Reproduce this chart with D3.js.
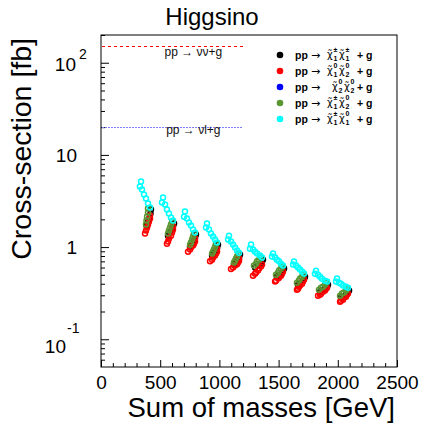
<!DOCTYPE html>
<html lang="en">
<head>
<meta charset="UTF-8" />
<title>Higgsino cross-sections</title>
<script src="https://d3js.org/d3.v7.min.js"></script>
<style>
  body { margin: 0; background: #fff; }
  svg { display: block; font-family: "Liberation Sans", Arial, Helvetica, sans-serif; }
</style>
</head>
<body>
<svg width="423" height="426"></svg>
<script>
  // sum of masses [GeV], cross-section [fb]; one inner list per mass point
  // pp -> chi1+- chi1+- + g
  const xsecC1C1 = [
    [[422,2.56],[418,2.32],[410,2.10],[399,1.90],[384,1.72]],
    [[617,1.80],[608,1.67],[600,1.55],[583,1.44],[566,1.33]],
    [[802,1.37],[794,1.27],[785,1.18],[769,1.09],[752,1.01]],
    [[988,1.06],[980,0.99],[971,0.92],[954,0.87],[938,0.81]],
    [[1174,0.83],[1166,0.77],[1157,0.73],[1140,0.70],[1123,0.65]],
    [[1368,0.73],[1360,0.70],[1351,0.66],[1326,0.63],[1301,0.60]],
    [[1546,0.584],[1537,0.556],[1529,0.528],[1503,0.502],[1486,0.478]],
    [[1723,0.478],[1715,0.455],[1706,0.433],[1681,0.411],[1664,0.391]],
    [[1917,0.391],[1909,0.372],[1892,0.354],[1867,0.337],[1850,0.328]],
    [[2095,0.337],[2086,0.321],[2069,0.305],[2044,0.290],[2027,0.283]]
  ];
  // pp -> chi1^0 chi2^0 + g
  const xsecN1N2 = [
    [[414,2.20],[414,2.04],[405,1.89],[397,1.76],[389,1.63],[380,1.51],[372,1.40]],
    [[608,1.67],[608,1.55],[600,1.44],[591,1.33],[574,1.24],[566,1.15],[557,1.09]],
    [[794,1.24],[794,1.15],[785,1.09],[777,1.04],[760,0.99],[752,0.94],[735,0.89]],
    [[980,0.96],[980,0.89],[971,0.85],[963,0.81],[946,0.77],[938,0.73],[921,0.70]],
    [[1166,0.75],[1166,0.71],[1157,0.68],[1149,0.65],[1132,0.63],[1115,0.60],[1098,0.58]],
    [[1360,0.646],[1351,0.614],[1334,0.584],[1326,0.556],[1309,0.529],[1301,0.515],[1284,0.490]],
    [[1537,0.542],[1529,0.515],[1520,0.490],[1503,0.466],[1495,0.455],[1478,0.432],[1470,0.422]],
    [[1715,0.444],[1706,0.422],[1698,0.401],[1681,0.382],[1672,0.372],[1664,0.354],[1655,0.345]],
    [[1909,0.363],[1900,0.354],[1892,0.337],[1875,0.328],[1858,0.312],[1850,0.304],[1833,0.297]],
    [[2086,0.313],[2078,0.305],[2069,0.290],[2052,0.283],[2044,0.269],[2027,0.262],[2019,0.256]]
  ];
  // pp -> chi2^0 chi2^0 + g (below the visible range)
  const xsecN2N2 = [
    [[345,0.031]],[[531,0.017]],[[716,0.011]],[[902,0.0074]],[[1088,0.0052]],
    [[1274,0.0038]],[[1460,0.0028]],[[1637,0.0021]],[[1823,0.0016]],[[2000,0.0012]]
  ];
  // pp -> chi1+- chi2^0 + g
  const xsecC1N2 = [
    [[397,2.62],[397,2.38],[389,2.15],[384,1.94],[380,1.76]],
    [[600,1.89],[591,1.76],[583,1.63],[574,1.51],[566,1.40]],
    [[785,1.40],[777,1.30],[769,1.21],[760,1.12],[752,1.06]],
    [[971,1.09],[963,1.01],[954,0.94],[946,0.89],[938,0.85]],
    [[1157,0.85],[1149,0.79],[1140,0.75],[1132,0.71],[1123,0.68]],
    [[1343,0.77],[1335,0.73],[1318,0.70],[1309,0.66],[1292,0.63]],
    [[1529,0.614],[1520,0.584],[1503,0.556],[1495,0.528],[1478,0.502]],
    [[1706,0.503],[1698,0.478],[1681,0.455],[1672,0.433],[1655,0.411]],
    [[1900,0.411],[1892,0.391],[1875,0.372],[1858,0.363],[1841,0.345]],
    [[2078,0.354],[2069,0.337],[2052,0.321],[2035,0.313],[2019,0.297]]
  ];
  // pp -> chi1+- chi1^0 + g
  const xsecC1N1 = [
    [[338,5.15],[329,4.55],[346,4.22],[363,3.72],[380,3.37],[397,2.97],[414,2.69]],
    [[524,3.45],[515,3.04],[541,2.90],[557,2.56],[574,2.31],[591,2.09],[608,1.94]],
    [[709,2.43],[701,2.14],[726,2.04],[743,1.85],[760,1.71],[777,1.55],[794,1.44]],
    [[895,1.80],[887,1.63],[912,1.55],[929,1.40],[946,1.30],[963,1.21],[980,1.12]],
    [[1081,1.33],[1073,1.21],[1098,1.15],[1115,1.07],[1132,0.99],[1149,0.92],[1166,0.87]],
    [[1267,1.07],[1258,0.96],[1284,0.94],[1301,0.89],[1318,0.85],[1343,0.81],[1360,0.77]],
    [[1453,0.850],[1444,0.79],[1470,0.77],[1486,0.73],[1503,0.70],[1520,0.66],[1537,0.63]],
    [[1630,0.696],[1622,0.646],[1647,0.630],[1664,0.599],[1681,0.570],[1698,0.542],[1715,0.516]],
    [[1816,0.555],[1807,0.515],[1833,0.502],[1850,0.478],[1867,0.454],[1892,0.432],[1909,0.422]],
    [[1993,0.455],[1985,0.422],[2010,0.411],[2027,0.401],[2044,0.382],[2069,0.372],[2086,0.363]]
  ];

  const seriesColors = ["#000000", "#ff0000", "#0000ff", "#5a9632", "#00ffff"];
  // legend: final-state particle pairs (sup, sub)
  const seriesParticles = [
    [["±","1"],["±","1"]],
    [["0","1"],["0","2"]],
    [["0","2"],["0","2"]],
    [["±","1"],["0","2"]],
    [["±","1"],["0","1"]]
  ];
  const seriesData = [xsecC1C1, xsecN1N2, xsecN2N2, xsecC1N2, xsecC1N1];

  // reference processes (horizontal lines)
  const refLabels = ["pp \u2192 \u03bd\u03bd+g", "pp \u2192 \u03bdl+g"];
  const refXsec = [151, 20.3];
  const refMaxMass = 1200;

  const xMajor = [0, 500, 1000, 1500, 2000, 2500];
  const xMinor = d3.range(100, 2500, 100).filter(v => v % 500 !== 0);
  const yMajor = [0.1, 1, 10, 100];
  const yMinor = [0.06,0.07,0.08,0.09,0.2,0.3,0.4,0.5,0.6,0.7,0.8,0.9,2,3,4,5,6,7,8,9,20,30,40,50,60,70,80,90,200];
  const yLabelBase = ["10", "1", "10", "10"];
  const yLabelExp = ["-1", "", "", "2"];

  const svg = d3.select("svg");
  const frame = { left: 101, right: 397, top: 35, bottom: 367 };

  const x = d3.scaleLinear().domain([0, 2500]).range([frame.left, frame.right]);
  const y = d3.scaleLog().domain([0.05, 200]).range([frame.bottom, frame.top]);

  svg.append("defs").append("clipPath").attr("id", "plotclip")
    .append("rect")
    .attr("x", frame.left).attr("y", frame.top)
    .attr("width", frame.right - frame.left).attr("height", frame.bottom - frame.top);

  // X axis
  const gx = svg.append("g").attr("transform", `translate(0,${frame.bottom})`);
  gx.call(d3.axisBottom(x).tickValues(xMajor).tickSize(-7).tickPadding(9).tickFormat(d3.format("d")));
  gx.append("g").call(d3.axisBottom(x).tickValues(xMinor).tickSize(-4).tickFormat(""));
  gx.selectAll(".domain").remove();
  gx.selectAll("line").attr("stroke", "#000");
  gx.selectAll("text").attr("font-size", 19).attr("font-family", null).attr("fill", "#000");

  // Y axis
  const gy = svg.append("g").attr("transform", `translate(${frame.left},0)`);
  gy.call(d3.axisLeft(y).tickValues(yMajor).tickSize(-8).tickFormat(""));
  gy.append("g").call(d3.axisLeft(y).tickValues(yMinor).tickSize(-4).tickFormat(""));
  gy.selectAll(".domain").remove();
  gy.selectAll("line").attr("stroke", "#000");

  yMajor.forEach((v, i) => {
    const yy = y(v);
    const exp = yLabelExp[i];
    if (!exp) {
      svg.append("text").attr("x", 77).attr("y", yy + 7)
        .attr("text-anchor", "end").attr("font-size", 19).text(yLabelBase[i]);
    } else if (exp.startsWith("-")) {
      svg.append("text").attr("x", 66).attr("y", yy + 14)
        .attr("text-anchor", "end").attr("font-size", 19).text(yLabelBase[i]);
      svg.append("text").attr("x", 67).attr("y", yy - 6)
        .attr("font-size", 14).text(exp);
    } else {
      svg.append("text").attr("x", 76).attr("y", yy + 8)
        .attr("text-anchor", "end").attr("font-size", 19).text(yLabelBase[i]);
      svg.append("text").attr("x", 79).attr("y", yy - 4)
        .attr("font-size", 14).text(exp);
    }
  });

  // frame
  svg.append("rect")
    .attr("x", frame.left).attr("y", frame.top)
    .attr("width", frame.right - frame.left).attr("height", frame.bottom - frame.top)
    .attr("fill", "none").attr("stroke", "#000").attr("stroke-width", 1);

  // reference lines (snapped to the pixel grid so the dots stay crisp)
  const refStyle = [
    { color: "#ff0000", dash: "3,3" },
    { color: "#8080ff", dash: "2,1" }
  ];
  refXsec.forEach((v, i) => {
    const ly = Math.round(y(v)) + 0.5;
    svg.append("line")
      .attr("x1", x(0) + 1).attr("x2", x(refMaxMass))
      .attr("y1", ly).attr("y2", ly)
      .attr("stroke", refStyle[i].color).attr("stroke-width", 1)
      .attr("shape-rendering", "crispEdges")
      .attr("stroke-dasharray", refStyle[i].dash);
    svg.append("text")
      .attr("x", x(780)).attr("y", y(v) + (i === 0 ? 10 : 7))
      .attr("text-anchor", "middle").attr("font-size", 12).attr("fill", "#111")
      .text(refLabels[i]);
  });

  // scatter points
  const plot = svg.append("g").attr("clip-path", "url(#plotclip)");
  seriesData.forEach((clusters, si) => {
    plot.append("g").selectAll("circle")
      .data(clusters.flat())
      .enter()
      .append("circle")
      .attr("cx", d => x(d[0]))
      .attr("cy", d => y(d[1]))
      .attr("r", 2.5)
      .attr("fill", "none")
      .attr("stroke", seriesColors[si])
      .attr("stroke-width", 1.5);
  });

  // legend
  const legend = svg.append("g");
  seriesParticles.forEach((parts, i) => {
    const ly = 55 + i * 16;
    legend.append("circle").attr("cx", 280).attr("cy", ly).attr("r", 3.3)
      .attr("fill", seriesColors[i]);
    legend.append("text").attr("x", 295).attr("y", ly + 4)
      .attr("font-size", 10.5).attr("font-weight", "bold").text("pp");
    legend.append("text").attr("x", 311).attr("y", ly + 4)
      .attr("font-family", "DejaVu Sans").attr("font-size", 11).text("\u2192");
    const x0 = i === 2 ? 332 : 327;
    parts.forEach((p, j) => {
      const px = x0 + j * 12;
      legend.append("text").attr("x", px).attr("y", ly + 3)
        .attr("font-family", "DejaVu Sans").attr("font-size", 10).text("\u03c7\u0303");
      legend.append("text").attr("x", px + 6.5).attr("y", ly - 3)
        .attr("font-size", 7).attr("font-weight", "bold").text(p[0]);
      legend.append("text").attr("x", px + 6.5).attr("y", ly + 5.5)
        .attr("font-size", 7).attr("font-weight", "bold").text(p[1]);
    });
    legend.append("text").attr("x", 357).attr("y", ly + 4)
      .attr("font-size", 10.5).attr("font-weight", "bold").text("+ g");
  });

  // titles
  svg.append("text").attr("x", 212).attr("y", 25)
    .attr("text-anchor", "middle").attr("font-size", 24).text("Higgsino");
  svg.append("text").attr("x", 395).attr("y", 417)
    .attr("text-anchor", "end").attr("font-size", 27.5).text("Sum of masses [GeV]");
  svg.append("text").attr("transform", "translate(31,38) rotate(-90)")
    .attr("text-anchor", "end").attr("font-size", 28.5).text("Cross-section [fb]");
</script>
</body>
</html>
